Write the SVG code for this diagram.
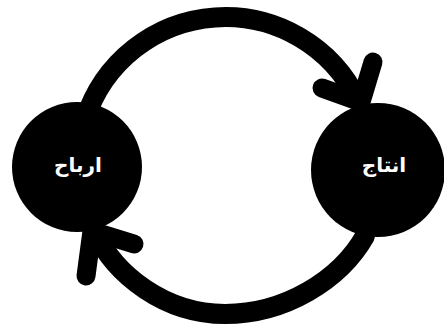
<svg xmlns="http://www.w3.org/2000/svg" width="444" height="327" viewBox="0 0 444 327">
<style>
.node{fill:#000}
.lbl{fill:#fff;font-family:"DejaVu Sans",sans-serif;font-size:20px;font-weight:bold;text-anchor:middle}
.arc{fill:none;stroke:#000;stroke-width:20;stroke-linecap:round;stroke-linejoin:round}
.head{fill:none;stroke:#000;stroke-width:19;stroke-linecap:round;stroke-linejoin:round}
</style>
<rect width="444" height="327" fill="#fff"/>
<g id="connectors">
<path class="arc" d="M 85,120 A 147 147 0 0 1 358,101"/>
<polyline class="head" points="373,62 361,102 322,88"/>
<path class="arc" d="M 365,236 C 340,280 285,314 225,314 C 165,314 115,275 95,232"/>
<polyline class="head" points="134,244 92,231 86,276"/>
</g>
<g id="node-arbah">
<circle class="node" cx="77" cy="167" r="65"/>
<text class="lbl" x="78" y="172">ارباح</text>
</g>
<g id="node-intaj">
<circle class="node" cx="378" cy="170" r="67"/>
<text class="lbl" x="384" y="172">انتاج</text>
</g>
</svg>
